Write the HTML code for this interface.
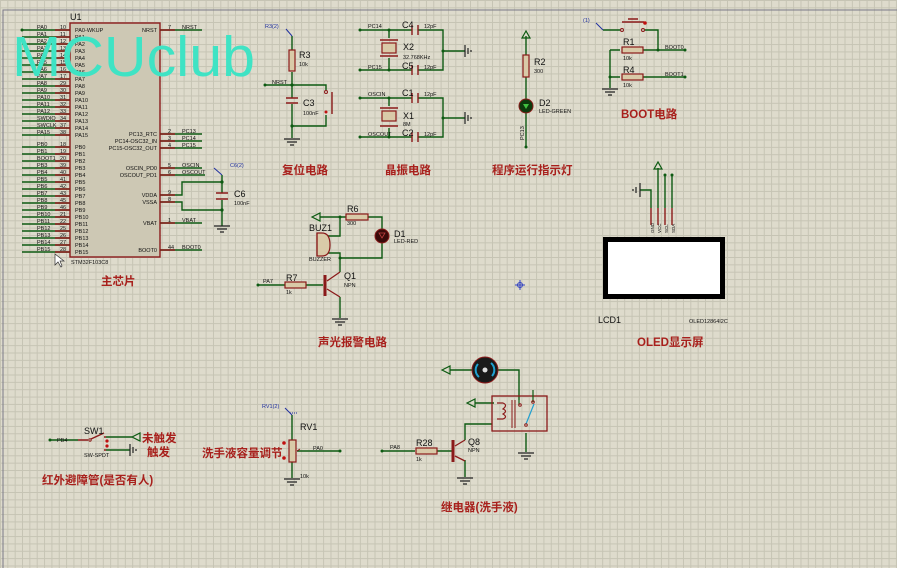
<!DOCTYPE html>
<html><head><meta charset="utf-8"><style>
html,body{margin:0;padding:0;}
body{width:897px;height:568px;overflow:hidden;background-color:#dedbcc;
background-image:linear-gradient(to right,#c6c4b4 1px,transparent 1px),linear-gradient(to bottom,#c6c4b4 1px,transparent 1px);
background-size:7.35px 7.35px;position:relative;font-family:"Liberation Sans","Noto Sans CJK SC",sans-serif;}
svg{position:absolute;left:0;top:0;}
.w{stroke:#0d5a12;stroke-width:1.4;fill:none}
.r{stroke:#8b1a1a;stroke-width:1.4;fill:none}
.rf{stroke:#8b1a1a;stroke-width:1.2;fill:#d9caa8}
.t{font-size:5.5px;fill:#111}
.n{font-size:9px;fill:#111}
.T{font-size:11.5px;font-weight:bold;fill:#a8201c;font-family:"Liberation Sans","Noto Sans CJK SC",sans-serif}
.d{fill:#0d5a12}
</style></head><body>
<svg width="897" height="568" viewBox="0 0 897 568" font-family="Liberation Sans, Noto Sans CJK SC, sans-serif">
<!-- frame -->
<path d="M3 568 V10 H897" stroke="#7a7a88" stroke-width="1" fill="none"/>

<!-- MCU -->
<rect x="70" y="23" width="90" height="234" fill="#cdc8b4" stroke="#8b1a1a" stroke-width="1.4"/>
<text x="70" y="20" class="n">U1</text>
<text x="71" y="264" class="t">STM32F103C8</text>
<g id="lp"></g>
<g class="w">
<path d="M22 30H70M22 37H70M22 44H70M22 51H70M22 58H70M22 65H70M22 72H70M22 79H70M22 86H70M22 93H70M22 100H70M22 107H70M22 114H70M22 121H70M22 128H70M22 135H70"/>
<path d="M22 147H70M22 154H70M22 161H70M22 168H70M22 175H70M22 182H70M22 189H70M22 196H70M22 203H70M22 210H70M22 217H70M22 224H70M22 231H70M22 238H70M22 245H70M22 252H70"/>
<path d="M160 30H202M160 134H202M160 141H202M160 148H202M160 168H202M160 175H205M160 195H182V182H222M160 202H182V210H222M160 223H202M160 250H202"/>
</g>
<g class="r"><path d="M55 30H70M55 37H70M55 44H70M55 51H70M55 58H70M55 65H70M55 72H70M55 79H70M55 86H70M55 93H70M55 100H70M55 107H70M55 114H70M55 121H70M55 128H70M55 135H70M55 147H70M55 154H70M55 161H70M55 168H70M55 175H70M55 182H70M55 189H70M55 196H70M55 203H70M55 210H70M55 217H70M55 224H70M55 231H70M55 238H70M55 245H70M55 252H70M160 30H175M160 134H175M160 141H175M160 148H175M160 168H175M160 175H175M160 195H175M160 202H175M160 223H175M160 250H175"/></g>
<g class="t">
<text x="37" y="29">PA0</text><text x="37" y="36">PA1</text><text x="37" y="43">PA2</text><text x="37" y="50">PA3</text><text x="37" y="57">PA4</text><text x="37" y="64">PA5</text><text x="37" y="71">PA6</text><text x="37" y="78">PA7</text><text x="37" y="85">PA8</text><text x="37" y="92">PA9</text><text x="37" y="99">PA10</text><text x="37" y="106">PA11</text><text x="37" y="113">PA12</text><text x="37" y="120">SWDIO</text><text x="37" y="127">SWCLK</text><text x="37" y="134">PA15</text>
<text x="37" y="146">PB0</text><text x="37" y="153">PB1</text><text x="37" y="160">BOOT1</text><text x="37" y="167">PB3</text><text x="37" y="174">PB4</text><text x="37" y="181">PB5</text><text x="37" y="188">PB6</text><text x="37" y="195">PB7</text><text x="37" y="202">PB8</text><text x="37" y="209">PB9</text><text x="37" y="216">PB10</text><text x="37" y="223">PB11</text><text x="37" y="230">PB12</text><text x="37" y="237">PB13</text><text x="37" y="244">PB14</text><text x="37" y="251">PB15</text>
<text x="60" y="29">10</text><text x="60" y="36">11</text><text x="60" y="43">12</text><text x="60" y="50">13</text><text x="60" y="57">14</text><text x="60" y="64">15</text><text x="60" y="71">16</text><text x="60" y="78">17</text><text x="60" y="85">29</text><text x="60" y="92">30</text><text x="60" y="99">31</text><text x="60" y="106">32</text><text x="60" y="113">33</text><text x="60" y="120">34</text><text x="60" y="127">37</text><text x="60" y="134">38</text>
<text x="60" y="146">18</text><text x="60" y="153">19</text><text x="60" y="160">20</text><text x="60" y="167">39</text><text x="60" y="174">40</text><text x="60" y="181">41</text><text x="60" y="188">42</text><text x="60" y="195">43</text><text x="60" y="202">45</text><text x="60" y="209">46</text><text x="60" y="216">21</text><text x="60" y="223">22</text><text x="60" y="230">25</text><text x="60" y="237">26</text><text x="60" y="244">27</text><text x="60" y="251">28</text>
<text x="75" y="32">PA0-WKUP</text><text x="75" y="39">PA1</text><text x="75" y="46">PA2</text><text x="75" y="53">PA3</text><text x="75" y="60">PA4</text><text x="75" y="67">PA5</text><text x="75" y="74">PA6</text><text x="75" y="81">PA7</text><text x="75" y="88">PA8</text><text x="75" y="95">PA9</text><text x="75" y="102">PA10</text><text x="75" y="109">PA11</text><text x="75" y="116">PA12</text><text x="75" y="123">PA13</text><text x="75" y="130">PA14</text><text x="75" y="137">PA15</text>
<text x="75" y="149">PB0</text><text x="75" y="156">PB1</text><text x="75" y="163">PB2</text><text x="75" y="170">PB3</text><text x="75" y="177">PB4</text><text x="75" y="184">PB5</text><text x="75" y="191">PB6</text><text x="75" y="198">PB7</text><text x="75" y="205">PB8</text><text x="75" y="212">PB9</text><text x="75" y="219">PB10</text><text x="75" y="226">PB11</text><text x="75" y="233">PB12</text><text x="75" y="240">PB13</text><text x="75" y="247">PB14</text><text x="75" y="254">PB15</text>
<g text-anchor="end"><text x="157" y="32">NRST</text><text x="157" y="136">PC13_RTC</text><text x="157" y="143">PC14-OSC32_IN</text><text x="157" y="150">PC15-OSC32_OUT</text><text x="157" y="170">OSCIN_PD0</text><text x="157" y="177">OSCOUT_PD1</text><text x="157" y="197">VDDA</text><text x="157" y="204">VSSA</text><text x="157" y="225">VBAT</text><text x="157" y="252">BOOT0</text></g>
<text x="168" y="29">7</text><text x="168" y="133">2</text><text x="168" y="140">3</text><text x="168" y="147">4</text><text x="168" y="167">5</text><text x="168" y="174">6</text><text x="168" y="194">9</text><text x="168" y="201">8</text><text x="168" y="222">1</text><text x="168" y="249">44</text>
<text x="182" y="29">NRST</text><text x="182" y="133">PC13</text><text x="182" y="140">PC14</text><text x="182" y="147">PC15</text><text x="182" y="167">OSCIN</text><text x="182" y="174">OSCOUT</text><text x="182" y="222">VBAT</text><text x="182" y="249">BOOT0</text>
<text x="234" y="205">100nF</text>
</g>
<!-- C6 -->
<g class="w"><path d="M222 175V193M222 200V226"/></g>
<g class="r"><path d="M216 193H228M216 199H228"/></g>
<path d="M214 226H230M217 229H227M220 232H224" stroke="#222" stroke-width="1.2"/>
<path d="M222 175L214 168" stroke="#2030a0" stroke-width="1" fill="none"/>
<text x="230" y="167" font-size="5.5" fill="#2030a0">C6(2)</text>
<text x="234" y="197" class="n">C6</text>
<circle cx="222" cy="182" r="1.6" class="d"/><circle cx="222" cy="210" r="1.6" class="d"/>
<g class="d"><circle cx="22" cy="30" r="1.5"/></g>

<!-- Reset -->
<g class="w"><path d="M292 36V50M292 72V98M265 85H326V90M292 104V126H326V115M292 126V138"/></g>
<rect x="289" y="50" width="6" height="21" class="rf"/>
<g class="r"><path d="M286 98H298M286 103H298M332 92V114"/></g>
<circle cx="326" cy="92" r="1.5" fill="none" stroke="#8b1a1a"/><circle cx="326" cy="112" r="1.5" fill="#c01010"/>
<path d="M284 139H300M287 142H297M290 145H294" stroke="#222" stroke-width="1.2"/>
<path d="M292 36L286 29" stroke="#2030a0" stroke-width="1"/>
<text x="265" y="28" font-size="5.5" fill="#2030a0">R3(2)</text>
<text x="299" y="58" class="n">R3</text><text x="299" y="66" class="t">10k</text>
<text x="303" y="106" class="n">C3</text><text x="303" y="115" class="t">100nF</text>
<text x="272" y="84" class="t">NRST</text>
<circle cx="292" cy="85" r="1.6" class="d"/><circle cx="292" cy="126" r="1.6" class="d"/><circle cx="265" cy="85" r="1.5" class="d"/>

<!-- Crystal -->
<g class="w"><path d="M360 30H412M418 30H443V70H418M412 70H360M389 30V38M389 58V70M443 51H465M360 98H412M418 98H443V137H418M412 137H360M389 98V106M389 128V137M443 118H465"/></g>
<g class="r"><path d="M412 25V35M418 25V35M412 65V75M418 65V75M412 93V103M418 93V103M412 132V142M418 132V142M380 40H398M380 56H398M380 108H398M380 126H398"/></g>
<rect x="382" y="43" width="14" height="10" class="rf"/><rect x="382" y="111" width="14" height="10" class="rf"/>
<path d="M465 45V57M468 48V54M471 50V52M465 112V124M468 115V121M471 117V119" stroke="#222" stroke-width="1.2"/>
<g class="t"><text x="368" y="28">PC14</text><text x="368" y="69">PC15</text><text x="368" y="96">OSCIN</text><text x="368" y="136">OSCOUT</text>
<text x="424" y="28">12pF</text><text x="424" y="69">12pF</text><text x="424" y="96">12pF</text><text x="424" y="136">12pF</text>
<text x="403" y="59">32.768KHz</text><text x="403" y="126">8M</text></g>
<g class="n"><text x="402" y="28">C4</text><text x="402" y="69">C5</text><text x="402" y="96">C1</text><text x="402" y="136">C2</text><text x="403" y="50">X2</text><text x="403" y="119">X1</text></g>
<circle cx="389" cy="30" r="1.5" class="d"/><circle cx="389" cy="70" r="1.5" class="d"/><circle cx="389" cy="98" r="1.5" class="d"/><circle cx="389" cy="137" r="1.5" class="d"/><circle cx="443" cy="51" r="1.5" class="d"/><circle cx="443" cy="118" r="1.5" class="d"/>
<circle cx="360" cy="30" r="1.5" class="d"/><circle cx="360" cy="70" r="1.5" class="d"/><circle cx="360" cy="98" r="1.5" class="d"/><circle cx="360" cy="137" r="1.5" class="d"/>

<!-- LED D2 -->
<g class="w"><path d="M526 36V55M526 77V99M526 113V147"/></g>
<path d="M522 38L526 31L530 38Z" fill="none" stroke="#0d5a12" stroke-width="1.2"/>
<rect x="523" y="55" width="6" height="22" class="rf"/>
<circle cx="526" cy="106" r="7" fill="#0d3a0d" stroke="#8b1a1a" stroke-width="1"/>
<path d="M523 104H529L526 109Z" fill="#40c040"/>
<text x="534" y="65" class="n">R2</text><text x="534" y="73" class="t">300</text>
<text x="539" y="106" class="n">D2</text><text x="539" y="113" class="t">LED-GREEN</text>
<text x="524" y="140" class="t" transform="rotate(-90 524 140)">PC13</text>
<circle cx="526" cy="147" r="1.5" class="d"/>

<!-- BOOT -->
<g class="w"><path d="M603 30H620M645 30H658V50M610 50H620M643 50H685M610 50V88M610 77H620M643 77H685"/></g>
<g class="r"><path d="M622 22H644M628 19H638"/></g>
<circle cx="622" cy="30" r="1.5" fill="none" stroke="#8b1a1a"/><circle cx="643" cy="30" r="1.5" fill="none" stroke="#8b1a1a"/><circle cx="645" cy="23" r="1.8" fill="#c01010"/>
<rect x="622" y="47" width="21" height="6" class="rf"/><rect x="622" y="74" width="21" height="6" class="rf"/>
<path d="M602 89H618M605 92H615M608 95H612" stroke="#222" stroke-width="1.2"/>
<path d="M603 30L596 23" stroke="#2030a0" stroke-width="1"/>
<text x="583" y="22" font-size="5.5" fill="#2030a0">(1)</text>
<text x="623" y="45" class="n">R1</text><text x="623" y="60" class="t">10k</text>
<text x="623" y="73" class="n">R4</text><text x="623" y="87" class="t">10k</text>
<text x="665" y="49" class="t">BOOT0</text><text x="665" y="76" class="t">BOOT1</text>
<circle cx="658" cy="50" r="1.5" class="d"/><circle cx="610" cy="77" r="1.5" class="d"/><circle cx="685" cy="50" r="1.5" class="d"/><circle cx="685" cy="77" r="1.5" class="d"/>

<!-- OLED -->
<g class="w"><path d="M640 190H651V208M658 168V208M665 175V208M672 175V208"/></g>
<g class="r"><path d="M651 208V225M658 208V225M665 208V225M672 208V225"/></g>
<path d="M640 183V197M636 187V193M633 189V191" stroke="#222" stroke-width="1.2"/>
<path d="M654 169L658 162L662 169Z" fill="none" stroke="#0d5a12" stroke-width="1.2"/>
<circle cx="665" cy="175" r="1.5" class="d"/><circle cx="672" cy="175" r="1.5" class="d"/>
<g font-size="4.5" fill="#111"><text transform="translate(654 233) rotate(-90)">GND</text><text transform="translate(661 233) rotate(-90)">VCC</text><text transform="translate(668 233) rotate(-90)">SCL</text><text transform="translate(675 233) rotate(-90)">SDA</text></g>
<rect x="605.5" y="239.5" width="117" height="57" fill="#fff" stroke="#000" stroke-width="5"/>
<text x="598" y="323" class="n">LCD1</text><text x="689" y="323" class="t">OLED12864I2C</text>

<!-- Alarm -->
<g class="w"><path d="M320 217H340V236H328M340 217H346M368 217H382V229M382 243V258H340M328 253H340V258V272M258 285H285M306 285H323M340 297V318"/></g>
<path d="M312 217L320 213V221Z" fill="none" stroke="#0d5a12" stroke-width="1.2"/>
<rect x="346" y="214" width="22" height="6" class="rf"/>
<circle cx="382" cy="236" r="7" fill="#3a0a0a" stroke="#8b1a1a"/><path d="M379 233H385L382 238Z" fill="none" stroke="#c04040" stroke-width="0.8"/>
<path d="M317 233H322Q330 233 330 245Q330 256 322 256H317Z" class="rf"/><path d="M317 233V256" stroke="#8b1a1a" stroke-width="1.2"/>
<rect x="285" y="282" width="21" height="6" class="rf"/>
<path d="M325 275V296" stroke="#8b1a1a" stroke-width="3"/>
<path d="M327 281L340 272M327 289L340 297" stroke="#8b1a1a" stroke-width="1.3"/>
<path d="M332 319H348M335 322H345M338 325H342" stroke="#222" stroke-width="1.2"/>
<g class="n"><text x="347" y="212">R6</text><text x="394" y="237">D1</text><text x="309" y="231">BUZ1</text><text x="286" y="281">R7</text><text x="344" y="279">Q1</text></g>
<g class="t"><text x="347" y="225">300</text><text x="394" y="243">LED-RED</text><text x="309" y="261">BUZZER</text><text x="286" y="294">1k</text><text x="344" y="287">NPN</text><text x="263" y="283">PA7</text></g>
<circle cx="340" cy="217" r="1.5" class="d"/><circle cx="340" cy="258" r="1.5" class="d"/><circle cx="258" cy="285" r="1.5" class="d"/>
<g stroke="#3040c0" stroke-width="1" fill="none"><circle cx="520" cy="285" r="2.5"/><path d="M515 285H525M520 280V290"/></g>

<!-- Relay / motor -->
<g class="w"><path d="M450 370H472M498 370H519V400M475 403H494M465 440V424H492M526 433V452M465 460V477M382 451H415M437 451H452"/></g>
<path d="M442 370L450 366V374Z" fill="none" stroke="#0d5a12" stroke-width="1.2"/>
<path d="M467 403L475 399V407Z" fill="none" stroke="#0d5a12" stroke-width="1.2"/>
<circle cx="485" cy="370" r="13" fill="#1a1a1a" stroke="#8b1a1a"/>
<path d="M478 364A9 9 0 0 0 479 377M492 376A9 9 0 0 0 491 363" stroke="#20a0d0" stroke-width="2" fill="none"/>
<circle cx="485" cy="370" r="2.5" fill="#ddd"/>
<rect x="492" y="396" width="55" height="35" fill="none" stroke="#8b1a1a" stroke-width="1.3"/>
<path d="M497 403H503Q508 405 503 409Q508 411 503 414Q508 417 503 419H497" stroke="#8b1a1a" stroke-width="1.2" fill="none"/>
<path d="M512 400V428M515 400V428" stroke="#8b1a1a" stroke-width="1"/>
<path d="M526 424L534 404" stroke="#20a0d0" stroke-width="1.2"/>
<path d="M519 400V405M533 390V402" stroke="#0d5a12" stroke-width="1.2"/>
<circle cx="520" cy="405" r="1.3" fill="none" stroke="#8b1a1a"/><circle cx="533" cy="402" r="1.3" fill="none" stroke="#8b1a1a"/><circle cx="526" cy="425" r="1.3" fill="none" stroke="#8b1a1a"/>
<path d="M518 453H534M521 456H531M524 459H528M457 478H473M460 481H470M463 484H467" stroke="#222" stroke-width="1.2"/>
<rect x="416" y="448" width="21" height="6" class="rf"/>
<path d="M453 440V462" stroke="#8b1a1a" stroke-width="3"/>
<path d="M455 446L465 440M455 456L465 461" stroke="#8b1a1a" stroke-width="1.3"/>
<g class="n"><text x="416" y="446">R28</text><text x="468" y="445">Q8</text></g>
<g class="t"><text x="416" y="461">1k</text><text x="468" y="452">NPN</text><text x="390" y="449">PA8</text></g>
<circle cx="382" cy="451" r="1.5" class="d"/>

<!-- RV1 -->
<g class="w"><path d="M292 415V440M292 462V478M297 451H340"/></g>
<rect x="289" y="440" width="7" height="22" class="rf"/>
<path d="M297 451L300 449" stroke="#8b1a1a"/>
<circle cx="284" cy="443" r="1.8" fill="#c01010"/><circle cx="284" cy="458" r="1.8" fill="#c01010"/>
<path d="M284 479H300M287 482H297M290 485H294" stroke="#222" stroke-width="1.2"/>
<path d="M292 415L285 408" stroke="#2030a0" stroke-width="1"/><path d="M290 413H298" stroke="#2030a0" stroke-dasharray="1 1"/>
<text x="262" y="408" font-size="5.5" fill="#2030a0">RV1(2)</text>
<text x="300" y="430" class="n">RV1</text><text x="300" y="478" class="t">10k</text><text x="313" y="450" class="t">PA0</text>
<circle cx="340" cy="451" r="1.5" class="d"/>

<!-- SW1 -->
<g class="w"><path d="M50 440H78M106 437H132M106 450H130"/></g>
<g class="r"><path d="M78 440H88M91 439L104 433M104 437H106M104 450H106"/></g>
<circle cx="90" cy="440" r="1.2" fill="none" stroke="#8b1a1a"/>
<circle cx="107" cy="441" r="1.6" fill="#c01010"/><circle cx="107" cy="446" r="1.6" fill="#c01010"/>
<path d="M132 437L140 433V441Z" fill="none" stroke="#0d5a12" stroke-width="1.2"/>
<path d="M130 444V456M133 447V453M136 449V451" stroke="#222" stroke-width="1.2"/>
<text x="84" y="434" class="n">SW1</text><text x="57" y="442" class="t">PB4</text><text x="84" y="457" class="t">SW-SPDT</text>
<circle cx="50" cy="440" r="1.5" class="d"/>
<text x="142" y="442" class="T">未触发</text><text x="147" y="456" class="T">触发</text>

<!-- Titles -->
<g class="T">
<text x="101" y="285">主芯片</text>
<text x="282" y="174">复位电路</text>
<text x="385" y="174">晶振电路</text>
<text x="492" y="174">程序运行指示灯</text>
<text x="621" y="118">BOOT电路</text>
<text x="318" y="346">声光报警电路</text>
<text x="637" y="346">OLED显示屏</text>
<text x="202" y="457">洗手液容量调节</text>
<text x="42" y="484">红外避障管(是否有人)</text>
<text x="441" y="511">继电器(洗手液)</text>
</g>

<!-- cursor -->
<path d="M55 254V265L58 262L61 267L62 266L60 261H64Z" fill="#fff" stroke="#333" stroke-width="0.7"/>

<!-- watermark -->
<text x="12" y="76" font-size="57" fill="#3fe3c4" font-family="Liberation Sans, sans-serif" textLength="243" lengthAdjust="spacingAndGlyphs">MCUclub</text>
</svg>
</body></html>
